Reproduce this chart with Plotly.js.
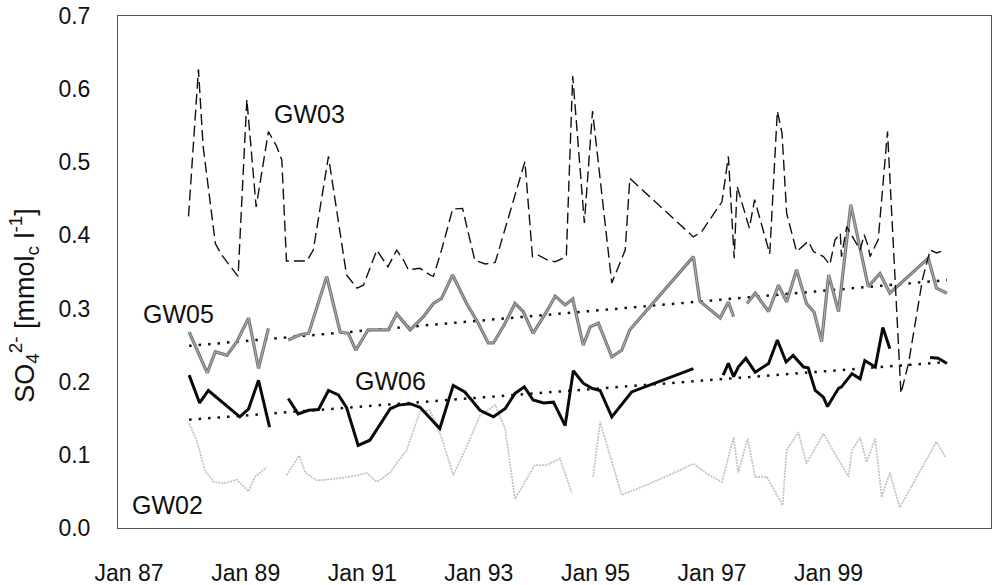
<!DOCTYPE html>
<html>
<head>
<meta charset="utf-8">
<script src="https://cdn.plot.ly/plotly-3.0.1.min.js"></script>
<style>html,body{margin:0;padding:0;background:#fff;}#chart{width:999px;height:585px;}</style>
</head>
<body>
<div id="chart"></div>
<script>
// decimal years and SO4 values [mmolc/l] (null = gap in record)
const gw03_x = [1988.02,1988.19,1988.27,1988.48,1988.59,1988.79,1988.87,1989.02,1989.18,1989.39,1989.53,1989.62,1989.70,1990.05,1990.16,1990.42,1990.73,1990.91,1991.02,1991.25,1991.44,1991.59,1991.71,1991.79,1991.99,1992.16,1992.22,1992.36,1992.55,1992.72,1992.93,1993.11,1993.28,1993.79,1993.92,1994.02,1994.19,1994.31,1994.50,1994.61,1994.81,1994.95,1995.28,1995.51,1995.59,1996.68,1996.82,1997.17,1997.28,1997.38,1997.43,1997.64,1997.73,1997.99,1998.12,1998.20,1998.28,1998.45,1998.65,1998.74,1998.91,1999.02,1999.11,1999.20,1999.22,1999.31,1999.54,1999.61,1999.68,1999.71,1999.85,2000.01,2000.24,2000.37,2000.61,2000.74,2000.85,2001.00];
const gw03_y = [0.426,0.627,0.522,0.389,0.373,0.352,0.344,0.586,0.439,0.542,0.522,0.503,0.365,0.365,0.380,0.508,0.346,0.328,0.332,0.380,0.357,0.380,0.366,0.353,0.355,0.346,0.344,0.380,0.436,0.437,0.366,0.361,0.363,0.501,0.371,0.373,0.366,0.364,0.371,0.618,0.417,0.570,0.335,0.380,0.478,0.398,0.405,0.446,0.508,0.369,0.467,0.410,0.449,0.375,0.570,0.540,0.430,0.378,0.392,0.378,0.371,0.360,0.394,0.403,0.371,0.412,0.380,0.401,0.385,0.371,0.394,0.542,0.184,0.225,0.340,0.380,0.376,0.380];

const gw05_x = [1988.03,1988.34,1988.48,1988.68,1988.85,1989.05,1989.22,1989.39,null,1989.73,1989.93,1990.08,1990.39,1990.62,1990.76,1990.89,1991.10,1991.25,1991.45,1991.59,1991.82,1992.05,1992.22,1992.36,1992.55,1992.79,1992.99,1993.16,1993.25,1993.45,1993.62,1993.76,1993.93,1994.14,1994.31,1994.48,1994.61,1994.79,1994.91,1995.05,1995.28,1995.45,1995.59,1996.68,1996.79,1997.14,1997.28,1997.37,null,1997.60,1997.74,1997.97,1998.14,1998.28,1998.45,1998.62,1998.75,1998.88,1999.00,1999.17,1999.38,1999.68,1999.88,2000.05,2000.71,2000.85,2001.03];
const gw05_y = [0.268,0.212,0.241,0.236,0.255,0.287,0.218,0.273,null,0.257,0.264,0.266,0.344,0.268,0.266,0.243,0.271,0.271,0.271,0.293,0.271,0.289,0.307,0.314,0.346,0.307,0.280,0.253,0.253,0.280,0.307,0.296,0.266,0.293,0.317,0.305,0.313,0.250,0.275,0.280,0.234,0.243,0.271,0.371,0.310,0.287,0.309,0.289,null,0.307,0.321,0.296,0.332,0.309,0.353,0.307,0.295,0.255,0.346,0.296,0.442,0.330,0.348,0.321,0.369,0.328,0.321];

const gw06_x = [1988.03,1988.21,1988.36,1988.90,1989.05,1989.22,1989.41,null,1989.73,1989.90,1990.08,1990.25,1990.42,1990.59,1990.73,1990.93,1991.13,1991.31,1991.48,1991.62,1991.82,1991.99,1992.22,1992.33,1992.56,1992.76,1993.02,1993.25,1993.45,1993.62,1993.78,1993.93,1994.11,1994.28,1994.48,1994.62,1994.79,1994.94,1995.08,1995.28,1995.62,1995.88,1996.68,null,1997.19,1997.28,1997.37,1997.45,1997.58,1997.74,1997.97,1998.12,1998.27,1998.39,1998.57,1998.65,1998.77,1998.91,1998.98,1999.17,1999.22,1999.40,1999.54,1999.62,1999.80,1999.93,2000.05,null,2000.74,2000.88,2001.03];
const gw06_y = [0.209,0.171,0.188,0.152,0.163,0.202,0.138,null,0.177,0.156,0.161,0.162,0.188,0.182,0.165,0.113,0.120,0.143,0.163,0.168,0.170,0.165,0.145,0.136,0.195,0.186,0.161,0.152,0.163,0.184,0.193,0.175,0.171,0.172,0.140,0.215,0.198,0.191,0.188,0.152,0.186,0.194,0.218,null,0.209,0.225,0.207,0.220,0.232,0.213,0.225,0.257,0.227,0.236,0.220,0.219,0.188,0.179,0.166,0.191,0.193,0.211,0.204,0.229,0.220,0.274,0.245,null,0.233,0.232,0.225];

const gw02_x = [1988.03,1988.16,1988.30,1988.45,1988.62,1988.85,1989.05,1989.16,1989.36,null,1989.70,1989.92,1990.02,1990.22,1990.50,1990.79,1991.08,1991.25,1991.48,1991.62,1991.76,1991.99,1992.16,1992.36,1992.56,1992.79,1993.02,1993.28,1993.45,1993.62,1993.96,1994.16,1994.39,1994.59,null,1994.96,1995.08,1995.45,1995.94,1996.45,1996.68,1996.91,1997.17,1997.37,1997.45,1997.61,1997.74,1997.94,1998.21,1998.28,1998.48,1998.62,1998.91,1999.34,1999.40,1999.54,1999.65,1999.80,1999.91,2000.05,2000.22,2000.85,2001.00];
const gw02_y = [0.143,0.120,0.079,0.063,0.061,0.066,0.050,0.070,0.083,null,0.072,0.099,0.076,0.065,0.067,0.070,0.075,0.063,0.076,0.092,0.106,0.159,0.161,0.124,0.072,0.111,0.154,0.168,0.136,0.040,0.086,0.086,0.095,0.049,null,0.070,0.145,0.045,0.061,0.079,0.088,0.074,0.063,0.124,0.076,0.122,0.070,0.070,0.031,0.106,0.131,0.088,0.129,0.070,0.106,0.124,0.090,0.122,0.042,0.076,0.028,0.118,0.097];

// linear trend lines (end points)
const trend_x = [1988.03, 2001.03];
const trend05_y = [0.249, 0.339];
const trend06_y = [0.148, 0.227];

// axis ticks
const xTickVals = [1987, 1989, 1991, 1993, 1995, 1997, 1999];
const xTickText = ["Jan 87", "Jan 89", "Jan 91", "Jan 93", "Jan 95", "Jan 97", "Jan 99"];
const yTickVals = [0, 0.1, 0.2, 0.3, 0.4, 0.5, 0.6, 0.7];
const yTitle = "SO<sub>4</sub><sup>2-</sup> [mmol<sub>c</sub> l<sup>-1</sup>]";

// series labels
const seriesLabels = ["GW03", "GW05", "GW06", "GW02"];
const labelX = [1990.10, 1987.84, 1991.49, 1987.66];
const labelY = [0.566, 0.292, 0.201, 0.031];

const FONT = "Liberation Sans, Arial, Helvetica, sans-serif";

const traces = [
  {x: gw02_x, y: gw02_y, mode: "lines", line: {color: "#c2c2c2", width: 1.7, dash: "2px,1px"}, connectgaps: false, name: "GW02"},
  {x: trend_x, y: trend05_y, mode: "lines", line: {color: "#111", width: 2.5, dash: "2.5px,7px"}, name: "trend GW05"},
  {x: trend_x, y: trend06_y, mode: "lines", line: {color: "#111", width: 2.5, dash: "2.5px,7px"}, name: "trend GW06"},
  // GW05 is drawn as a grey double-edged line: dark outer stroke, lighter core
  {x: gw05_x, y: gw05_y, mode: "lines", line: {color: "#767676", width: 3.2}, connectgaps: false, name: "GW05"},
  {x: gw05_x, y: gw05_y, mode: "lines", line: {color: "#b4b4b4", width: 1.0}, connectgaps: false, name: "GW05 core"},
  {x: gw06_x, y: gw06_y, mode: "lines", line: {color: "#0a0a0a", width: 3}, connectgaps: false, name: "GW06"},
  {x: gw03_x, y: gw03_y, mode: "lines", line: {color: "#111", width: 1.4, dash: "11px,5px"}, connectgaps: false, name: "GW03"}
];

const annotations = seriesLabels.map((t, i) => ({
  x: labelX[i], y: labelY[i], xref: "x", yref: "y", text: t, showarrow: false,
  font: {family: FONT, size: 25, color: "#111"}, xanchor: "center", yanchor: "middle"
}));
// y-axis title, placed as in the reference (slightly below the axis middle)
annotations.push({
  x: -0.107, y: 0.435, xref: "paper", yref: "paper", text: yTitle, showarrow: false,
  textangle: -90, xanchor: "center", yanchor: "middle",
  font: {family: FONT, size: 27, color: "#111"}
});

const layout = {
  width: 999, height: 585,
  margin: {l: 118, r: 8, t: 16, b: 57, pad: 0},
  paper_bgcolor: "#fff", plot_bgcolor: "#fff",
  showlegend: false,
  font: {family: FONT, size: 23, color: "#111"},
  xaxis: {
    range: [1986.81, 2001.785], showgrid: false, zeroline: false,
    tickmode: "array", tickvals: xTickVals, ticktext: xTickText,
    ticks: "", ticklabelstandoff: 24,
    showline: true, mirror: true, linecolor: "#555", linewidth: 1,
    tickfont: {family: FONT, size: 23, color: "#111"}
  },
  yaxis: {
    range: [0, 0.7], showgrid: false, zeroline: false,
    tickmode: "array", tickvals: yTickVals, tickformat: ".1f",
    ticks: "", ticklabelstandoff: 22,
    showline: true, mirror: true, linecolor: "#555", linewidth: 1,
    tickfont: {family: FONT, size: 23, color: "#111"}
  },
  annotations: annotations
};

Plotly.newPlot("chart", traces, layout, {staticPlot: true, displayModeBar: false});
</script>
</body>
</html>
